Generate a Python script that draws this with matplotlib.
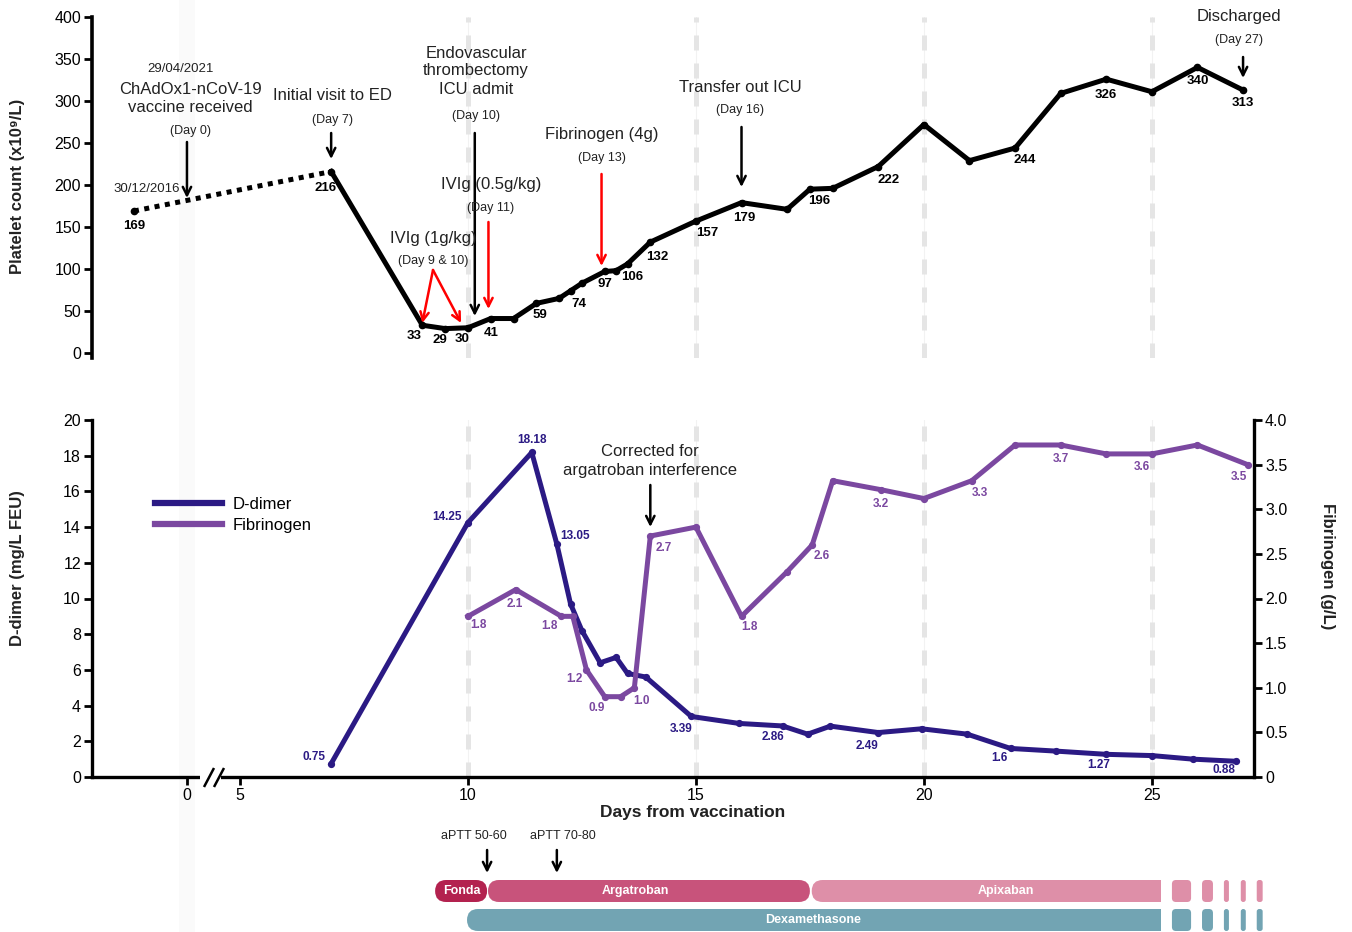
import numpy as np
import matplotlib
matplotlib.use("Agg")
import matplotlib.pyplot as plt
from matplotlib.patches import FancyBboxPatch, Rectangle
from matplotlib.lines import Line2D
from matplotlib.ticker import NullLocator

plt.rcParams['font.family'] = ['Liberation Sans', 'DejaVu Sans']

W, H = 1352, 932

# ---------------- data ----------------
# day -5 is only a display slot for the 2016 baseline count
platelet_days = [-5, 7, 9, 9.5, 10, 10.5, 11, 11.5, 12, 12.25, 12.5, 13, 13.25, 13.5,
                 14, 15, 16, 17, 17.5, 18, 19, 20, 21, 22, 23, 24, 25, 26, 27]
platelet_vals = [169, 216, 33, 29, 30, 41, 41, 59, 65, 74, 83, 97, 98, 106,
                 132, 157, 179, 171, 195, 196, 222, 272, 229, 244, 309, 326, 311, 340, 313]
platelet_labelled = [0, 1, 2, 3, 4, 5, 7, 9, 11, 13, 14, 15, 16, 19, 20, 23, 25, 27, 28]

ddimer_days = [7, 10, 11.4, 11.95, 12.25, 12.5, 12.9, 13.25, 13.5, 13.9, 14.9, 15.95,
               16.9, 17.45, 17.95, 19, 19.95, 20.95, 21.9, 22.9, 24, 25, 25.9, 26.85]
ddimer_vals = [0.75, 14.25, 18.18, 13.05, 9.7, 8.2, 6.4, 6.7, 5.8, 5.6, 3.39, 3.0,
               2.86, 2.4, 2.85, 2.49, 2.7, 2.4, 1.6, 1.45, 1.27, 1.2, 1.0, 0.88]
ddimer_labelled = [0, 1, 2, 3, 10, 12, 15, 18, 20, 23]

fib_days = [10, 11.05, 12.05, 12.3, 12.6, 13.0, 13.35, 13.65, 14.0, 15.0, 16.0, 17.0,
            17.55, 18.0, 19.05, 20.0, 21.05, 22.0, 23.0, 24.0, 25.0, 26.0, 27.1]
fib_vals = [1.8, 2.1, 1.8, 1.8, 1.2, 0.9, 0.9, 1.0, 2.7, 2.8, 1.8, 2.3,
            2.6, 3.32, 3.22, 3.12, 3.32, 3.72, 3.72, 3.62, 3.62, 3.72, 3.5]
fib_labels = ["1.8", "2.1", "1.8", "1.2", "0.9", "1.0", "2.7", "1.8", "2.6",
              "3.2", "3.3", "3.7", "3.6", "3.5"]
fib_labelled = [0, 1, 2, 4, 5, 7, 8, 10, 12, 14, 16, 18, 20, 22]

treat_names = ["Fonda", "Argatroban", "Apixaban"]
treat_start = [9.28, 10.44, 17.54]
treat_end = [10.42, 17.5, 25.2]
treat_text_day = [9.87, 13.68, 21.8]
dex_start, dex_end, dex_text_day = 9.98, 25.2, 17.57
tail_start = [25.44, 26.1, 26.58, 26.95, 27.3]
tail_end = [25.86, 26.34, 26.69, 27.06, 27.43]

xticks = [0, 5, 10, 15, 20, 25]
grid_days = [10, 15, 20, 25]

# ---------------- styles ----------------
C_DD = '#2b1a84'
C_FIB = '#7b48a0'
C_TREAT = ['#b3224f', '#c8537b', '#de8fa8']
C_DEX = '#72a4b3'
TXT = '#222222'

# label offsets in pixels (dx, dy up)
plt_off = [(0, -15), (-6, -16), (-8, -11), (-5, -11), (-6, -11), (0, -14), (4, -12),
           (8, -13), (0, -13), (5, -13), (7, -15), (11, -12), (3, -15), (-14, -13),
           (10, -13), (10, -12), (0, -16), (0, -14), (0, -13)]
dd_off = [(-6, 7, 'right'), (-6, 6, 'right'), (0, 12, 'center'), (3, 8, 'left'),
          (-10, -13, 'center'), (-10, -11, 'center'), (-11, -13, 'center'),
          (-11, -10, 'center'), (-8, -11, 'center'), (-12, -9, 'center')]
fib_off = [(11, -9), (-1, -14), (-12, -10), (-12, -9), (-8, -11), (7, -13), (13, -12),
           (8, -11), (10, -11), (0, -14), (8, -12), (0, -14), (-10, -13), (-9, -12)]

# broken x axis: days before 5 are squeezed
BRK = 5.0
SQZ = 53 / 228


def fwd(d):
    d = np.asarray(d, float)
    return np.where(d >= BRK, d, BRK - (BRK - d) * SQZ)


def inv(p):
    p = np.asarray(p, float)
    return np.where(p >= BRK, p, BRK - (BRK - p) / SQZ)


XLIM = (-8.96, 27.24)

fig = plt.figure(figsize=(W / 100, H / 100), dpi=100)


def fig_rect(x0, y0, x1, y1):
    return [x0 / W, 1 - y1 / H, (x1 - x0) / W, (y1 - y0) / H]


# pale break band behind everything
fig.add_artist(Rectangle((179 / W, 0), 16 / W, 1, transform=fig.transFigure,
                         color='#fafafa', zorder=-5, lw=0))

ax_top = fig.add_axes(fig_rect(92, 17, 1254, 358))
ax_bot = fig.add_axes(fig_rect(92, 420, 1254, 777))
for a in (ax_top, ax_bot):
    a.set_xscale('function', functions=(fwd, inv))
    a.set_xlim(*XLIM)
    a.patch.set_alpha(0)
    a.xaxis.set_minor_locator(NullLocator())
    for d in grid_days:
        a.axvline(d, color='#f2f2f2', lw=0.8, zorder=0)
        a.axvline(d, color='#e5e5e5', lw=3.6, linestyle=(0, (3, 2.6)), zorder=0)

# ---- top panel: platelets ----
ax_top.set_ylim(-6, 400)
ax_top.set_yticks(range(0, 401, 50))
for s in ('top', 'right', 'bottom'):
    ax_top.spines[s].set_visible(False)
ax_top.spines['left'].set_linewidth(2.6)
ax_top.set_xticks([])
ax_top.tick_params(axis='y', width=2, length=6, labelsize=11.5, pad=2)

ax_top.plot(platelet_days[:2], platelet_vals[:2], color='k', lw=3.6,
            linestyle=(0, (1, 1.1)), clip_on=False)
ax_top.plot(platelet_days[1:], platelet_vals[1:], color='k', lw=3.6,
            solid_joinstyle='round', clip_on=False)
ax_top.plot(platelet_days, platelet_vals, 'o', color='k', ms=4.5, clip_on=False)
for i, (dx, dy) in zip(platelet_labelled, plt_off):
    ax_top.annotate(str(platelet_vals[i]), (platelet_days[i], platelet_vals[i]),
                    xytext=(dx, dy), textcoords='offset pixels', ha='center',
                    va='center', fontsize=9.5, fontweight='bold', color='k')

# ---- bottom panel: D-dimer & fibrinogen ----
ax_bot.set_ylim(0, 20)
ax_bot.set_yticks(range(0, 21, 2))
ax_bot.set_xticks(xticks)
ax_bot.set_xticklabels([str(t) for t in xticks])
ax_bot.spines['top'].set_visible(False)
ax_bot.spines['right'].set_visible(False)
for s in ('left', 'bottom'):
    ax_bot.spines[s].set_linewidth(2.4)
ax_bot.tick_params(width=2, length=6, labelsize=11.5, pad=2)

ax_fib = ax_bot.twinx()
ax_fib.patch.set_alpha(0)
ax_fib.set_ylim(0, 4)
fib_ticks = np.arange(0, 4.01, 0.5)
ax_fib.set_yticks(fib_ticks)
ax_fib.set_yticklabels(['0'] + ['%.1f' % t for t in fib_ticks[1:]])
for s in ('top', 'left', 'bottom'):
    ax_fib.spines[s].set_visible(False)
ax_fib.spines['right'].set_linewidth(2.4)
ax_fib.tick_params(width=2, length=6, labelsize=11.5, pad=2)

ax_bot.plot(ddimer_days, ddimer_vals, color=C_DD, lw=3.6, marker='o', ms=4.2,
            solid_joinstyle='round', clip_on=False)
ax_fib.plot(fib_days, fib_vals, color=C_FIB, lw=3.6, marker='o', ms=4.2,
            solid_joinstyle='round', clip_on=False)

for i, (dx, dy, ha) in zip(ddimer_labelled, dd_off):
    ax_bot.annotate('%g' % ddimer_vals[i], (ddimer_days[i], ddimer_vals[i]),
                    xytext=(dx, dy), textcoords='offset pixels', ha=ha, va='center',
                    fontsize=8.5, fontweight='bold', color=C_DD)
for i, txt, (dx, dy) in zip(fib_labelled, fib_labels, fib_off):
    ax_fib.annotate(txt, (fib_days[i], fib_vals[i]), xytext=(dx, dy),
                    textcoords='offset pixels', ha='center', va='center',
                    fontsize=8.5, fontweight='bold', color=C_FIB)

fig.legend(handles=[Line2D([], [], color=C_DD, lw=4.5),
                    Line2D([], [], color=C_FIB, lw=4.5)],
           labels=['D-dimer', 'Fibrinogen'], loc='upper left',
           bbox_to_anchor=(155 / W, 1 - 497 / H), frameon=False, fontsize=12,
           handlelength=4.0, handletextpad=0.65, labelspacing=0.35,
           borderpad=0, borderaxespad=0)

# ---------------- overlay in pixel coordinates ----------------
ov = fig.add_axes([0, 0, 1, 1], zorder=10)
ov.set_xlim(0, W)
ov.set_ylim(H, 0)
ov.axis('off')
ov.patch.set_alpha(0)


def px(day):
    return ax_bot.transData.transform((day, 0))[0]


def arrow(x, y0, y1, color='k'):
    ov.annotate('', xy=(x, y1), xytext=(x, y0),
                arrowprops=dict(arrowstyle='->,head_length=0.6,head_width=0.3',
                                lw=1.8, color=color, shrinkA=0, shrinkB=0))


def label(x, y, s, size=12, **kw):
    ov.text(x, y, s, ha='center', va='center', fontsize=size, color=TXT, **kw)


label(181, 69, '29/04/2021', 9.5)
label(190, 98, 'ChAdOx1-nCoV-19\nvaccine received', 12, linespacing=1.25)
label(190, 131, '(Day 0)', 9)
arrow(px(0), 142, 198)
label(147, 189, '30/12/2016', 9.5)

label(332, 96, 'Initial visit to ED')
label(332, 120, '(Day 7)', 9)
arrow(px(7), 133, 159)

label(476, 71, 'Endovascular\nthrombectomy\nICU admit', 12, linespacing=1.25)
label(476, 116, '(Day 10)', 9)
arrow(px(10.15), 133, 316)

label(491, 185, 'IVIg (0.5g/kg)')
label(491, 208, '(Day 11)', 9)
arrow(px(10.45), 222, 309, 'red')

label(433, 238, 'IVIg (1g/kg)')
label(433, 261, '(Day 9 & 10)', 9)
for d in (9, 9.85):
    ov.annotate('', xy=(px(d), 323), xytext=(433, 270),
                arrowprops=dict(arrowstyle='->,head_length=0.6,head_width=0.3',
                                lw=1.8, color='red', shrinkA=0, shrinkB=0))

label(602, 134, 'Fibrinogen (4g)')
label(602, 158, '(Day 13)', 9)
arrow(px(12.93), 174, 266, 'red')

label(740, 87, 'Transfer out ICU')
label(740, 110, '(Day 16)', 9)
arrow(px(16), 127, 187)

label(1239, 17, 'Discharged')
label(1239, 40, '(Day 27)', 9)
arrow(px(27), 57, 78)

label(650, 461, 'Corrected for\nargatroban interference', 12, linespacing=1.25)
arrow(px(14), 485, 527)

# axis titles
ov.text(18, 186, 'Platelet count (x10\u2079/L)', rotation=90, ha='center', va='center',
        fontsize=12, fontweight='bold', color=TXT)
ov.text(18, 568, 'D-dimer (mg/L FEU)', rotation=90, ha='center', va='center',
        fontsize=12, fontweight='bold', color=TXT)
ov.text(1328, 566, 'Fibrinogen (g/L)', rotation=-90, ha='center', va='center',
        fontsize=12, fontweight='bold', color=TXT)
ov.text(693, 813, 'Days from vaccination', ha='center', va='center',
        fontsize=12.5, fontweight='bold', color=TXT)

# axis break mark
ov.add_patch(Rectangle((200, 773), 21, 8, color='white', zorder=5, lw=0))
for x0 in (204, 214):
    ov.plot([x0, x0 + 10], [787, 768], color='k', lw=1.8, zorder=6,
            solid_capstyle='butt')

# aPTT notes
label(474, 836, 'aPTT 50-60', 9)
arrow(px(10.42), 850, 873)
label(563, 836, 'aPTT 70-80', 9)
arrow(px(11.95), 850, 873)


# treatment bars
def pill(x0, x1, y0, h, color, r, square_right=False):
    ov.add_patch(FancyBboxPatch((x0, y0), x1 - x0, h,
                                boxstyle='round,pad=0,rounding_size=%g' % r,
                                fc=color, ec='none', zorder=3))
    if square_right:
        ov.add_patch(Rectangle((x1 - r - 1, y0), r + 1, h, fc=color, ec='none',
                               zorder=3))


ROW1, ROW2, BH = 880, 909, 22
for name, s, e, tday, c in zip(treat_names, treat_start, treat_end, treat_text_day,
                               C_TREAT):
    pill(px(s), px(e), ROW1, BH, c, 11, square_right=(name == 'Apixaban'))
    ov.text(px(tday), ROW1 + BH / 2, name, ha='center', va='center', fontsize=9,
            fontweight='bold', color='white', zorder=4)
pill(px(dex_start), px(dex_end), ROW2, BH, C_DEX, 11, square_right=True)
ov.text(px(dex_text_day), ROW2 + BH / 2, 'Dexamethasone', ha='center', va='center',
        fontsize=9, fontweight='bold', color='white', zorder=4)
for s, e in zip(tail_start, tail_end):
    x0, x1 = px(s), px(e)
    r = 4 if x1 - x0 > 9 else 2.5
    pill(x0, x1, ROW1, BH, C_TREAT[2], r)
    pill(x0, x1, ROW2, BH, C_DEX, r)

fig.savefig('out.png', dpi=100)
